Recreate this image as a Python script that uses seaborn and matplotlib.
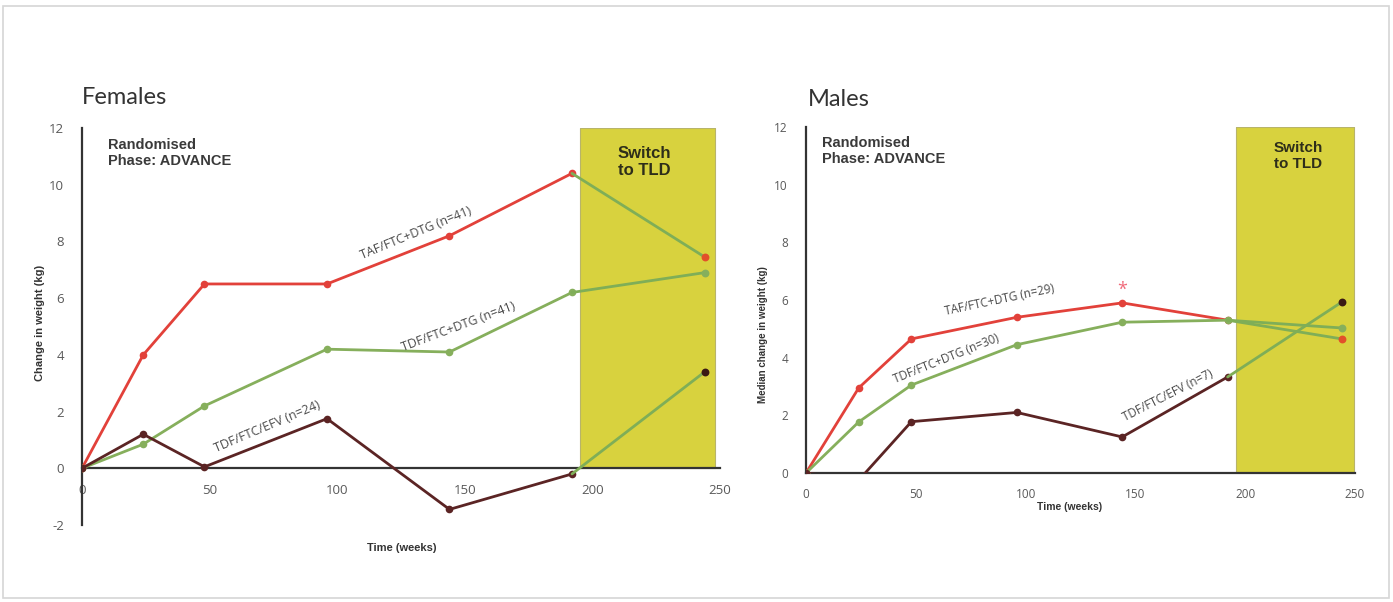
import matplotlib
matplotlib.use("Agg")
import matplotlib.pyplot as plt
import seaborn as sns
import pandas as pd
from matplotlib.patches import Rectangle

# ---------------- data ----------------
weeks = [0, 24, 48, 96, 144, 192, 244]
series_names = ["TAF/FTC+DTG", "TDF/FTC+DTG", "TDF/FTC/EFV"]

fem_taf = [0, 4.0, 6.5, 6.5, 8.2, 10.4, 7.45]
fem_tdf_dtg = [0, 0.85, 2.2, 4.2, 4.1, 6.2, 6.9]
fem_efv = [0, 1.2, 0.05, 1.75, -1.45, -0.2, 3.4]

mal_taf = [0, 2.95, 4.65, 5.4, 5.9, 5.3, 4.65]
mal_tdf_dtg = [0, 1.77, 3.05, 4.45, 5.23, 5.3, 5.03]
mal_efv = [0, -0.25, 1.78, 2.1, 1.25, 3.33, 5.93]

fem_labels = ["TAF/FTC+DTG (n=41)", "TDF/FTC+DTG (n=41)", "TDF/FTC/EFV (n=24)"]
mal_labels = ["TAF/FTC+DTG (n=29)", "TDF/FTC+DTG (n=30)", "TDF/FTC/EFV (n=7)"]

switch_start = [195, 196]
switch_end = [248, 249.5]

star_week = 144
star_value = 6.35

# ---------------- style ----------------
sns.set_theme(style="white")
plt.rcParams["font.family"] = ["Open Sans", "DejaVu Sans"]
plt.rcParams["axes.unicode_minus"] = False

colors = {"TAF/FTC+DTG": "#E2413A", "TDF/FTC+DTG": "#86AF5C", "TDF/FTC/EFV": "#5B2424"}
end_colors = {"TAF/FTC+DTG": "#E2502A", "TDF/FTC+DTG": "#86AF5C", "TDF/FTC/EFV": "#3A1A14"}
switch_line = "#7FAE57"
span_color = "#D8D23E"
tick_col = "#595959"
bold_font = ["Liberation Sans", "DejaVu Sans"]

fig = plt.figure(figsize=(13.93, 6.02), dpi=100)
# slide frame
fig.patches.append(Rectangle((3 / 1393, 4 / 602), 1386 / 1393, 592 / 602, transform=fig.transFigure,
                             fill=False, edgecolor="#d6d6d6", linewidth=1.2))

axL = fig.add_axes([82 / 1393, 1 - 525 / 602, 638 / 1393, 397 / 602])
axR = fig.add_axes([806 / 1393, 1 - 473 / 602, 549 / 1393, 346 / 602])


def build(vals):
    rows = []
    for name, v in zip(series_names, vals):
        for w, y in zip(weeks, v):
            rows.append({"week": w, "value": y, "series": name})
    return pd.DataFrame(rows)


def draw(ax, vals, ylim, idx, rand_pos, switch_pos, switch_fs):
    df = build(vals)
    pre = df[df["week"] <= 192]
    post = df[df["week"] >= 192]
    ax.fill_between([switch_start[idx], switch_end[idx]], 0, 12, color=span_color,
                    edgecolor="#b8b46a", linewidth=0.8, zorder=1)
    sns.lineplot(data=pre, x="week", y="value", hue="series", palette=colors,
                 marker="o", markersize=5.5, markeredgewidth=0, linewidth=2.0,
                 legend=False, ax=ax, zorder=3)
    for name in series_names:
        seg = post[post["series"] == name]
        sns.lineplot(data=seg, x="week", y="value", color=switch_line, linewidth=2.0,
                     legend=False, ax=ax, zorder=3)
        last = seg[seg["week"] == 244]
        sns.scatterplot(data=last, x="week", y="value", color=end_colors[name], s=32,
                        linewidth=0, legend=False, ax=ax, zorder=4)
    ax.set_xlim(0, 250)
    ax.set_ylim(*ylim)
    ax.set_xticks(range(0, 251, 50))
    ax.set_yticks(range(int(ylim[0]), 13, 2))
    for s in ["top", "right"]:
        ax.spines[s].set_visible(False)
    for s in ["left", "bottom"]:
        ax.spines[s].set_color("#333333")
        ax.spines[s].set_linewidth(1.6)
    ax.spines["bottom"].set_position(("data", 0))
    ax.tick_params(axis="both", direction="out", length=4, width=1.2, color="#333333",
                   labelcolor=tick_col, labelsize=9.5, pad=7)
    ax.tick_params(axis="y", pad=9)
    ax.set_facecolor("none")
    ax.text(rand_pos[0], rand_pos[1], "Randomised\nPhase: ADVANCE", fontsize=10.5, fontweight="bold",
            color="#3a3a3a", va="top", ha="left", family=bold_font, linespacing=1.2)
    ax.text(switch_pos[0], switch_pos[1], "Switch\nto TLD",
            fontsize=switch_fs, fontweight="bold", color="#2e2e1a",
            ha="center", va="top", family=bold_font, linespacing=1.15, zorder=5)


draw(axL, [fem_taf, fem_tdf_dtg, fem_efv], (-2, 12), 0, (10, 11.65), (220.5, 11.35), 12)
draw(axR, [mal_taf, mal_tdf_dtg, mal_efv], (0, 12), 1, (7.5, 11.7), (224, 11.5), 11)
axR.tick_params(labelsize=8.5)

# axis labels
axL.set_xlabel("Time (weeks)", fontsize=8, fontweight="bold", color="#333333", family=bold_font)
axL.xaxis.set_label_coords(0.501, -0.045)
axL.set_ylabel("Change in weight (kg)", fontsize=8, fontweight="bold", color="#333333",
               family=bold_font)
axL.yaxis.set_label_coords(-0.058, 0.51)

axR.set_xlabel("Time (weeks)", fontsize=7.5, fontweight="bold", color="#333333", family=bold_font)
axR.xaxis.set_label_coords(0.48, -0.083)
axR.set_ylabel("Median change in weight (kg)", fontsize=7, fontweight="bold", color="#333333",
               family=bold_font)
axR.yaxis.set_label_coords(-0.07, 0.4)

# panel titles
fig.text(82 / 1393, 1 - 97 / 602, "Females", fontsize=17, color="#333333", va="center", ha="left",
         family=["Lato", "DejaVu Sans"])
fig.text(808 / 1393, 1 - 99 / 602, "Males", fontsize=17, color="#333333", va="center", ha="left",
         family=["Lato", "DejaVu Sans"])

# series labels along lines
lab_kw = dict(fontsize=9, color="#4a4a4a", ha="center", va="center", rotation_mode="anchor",
              family=["Open Sans", "DejaVu Sans"])
axL.text(131, 8.3, fem_labels[0], rotation=22.5, **lab_kw)
axL.text(147.5, 5.0, fem_labels[1], rotation=20.5, **lab_kw)
axL.text(72.5, 1.45, fem_labels[2], rotation=23, **lab_kw)

lab_kw["fontsize"] = 8.5
axR.text(88, 6.0, mal_labels[0], rotation=12, **lab_kw)
axR.text(64, 3.95, mal_labels[1], rotation=22, **lab_kw)
axR.text(165, 2.7, mal_labels[2], rotation=27, **lab_kw)

# significance star
axR.text(star_week, star_value, "*", fontsize=13, color="#F06A7A", ha="center", va="center",
         zorder=5)

fig.savefig("out.png", dpi=100)
